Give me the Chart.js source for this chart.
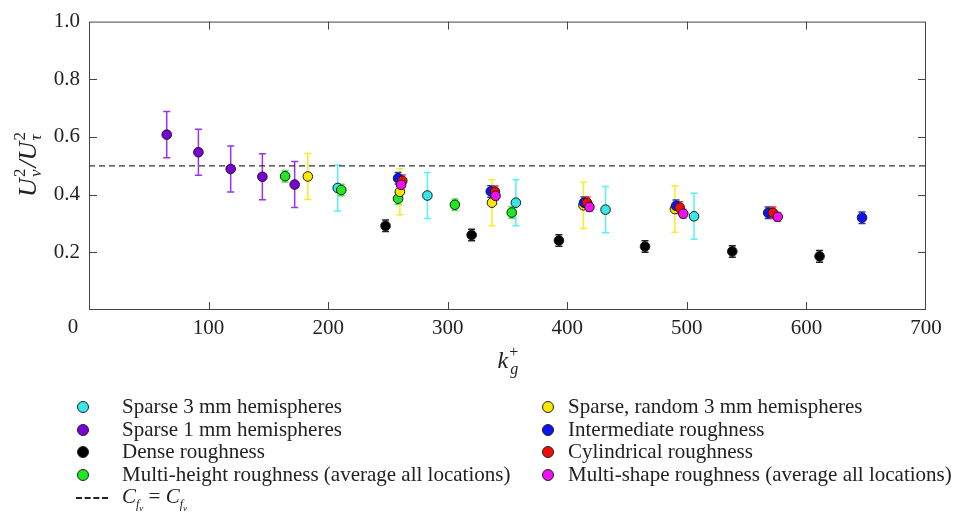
<!DOCTYPE html>
<html>
<head>
<meta charset="utf-8">
<script src="https://cdn.jsdelivr.net/npm/chart.js@4"></script>
<style>
  body{margin:0;background:#fff;}
  #wrap{position:relative;width:957px;height:515px;font-family:'Liberation Serif',serif;color:#222;}
  #myChart{position:absolute;left:0;top:0;}
  .lg{position:absolute;font-size:21px;line-height:22px;white-space:nowrap;}
  .dot{position:absolute;width:10px;height:10px;border-radius:50%;border:1px solid #222;}
  .dash{position:absolute;width:32px;height:0;border-top:2px dashed #222;}
  i{font-style:italic;}
  sub{font-size:12px;line-height:0;}
  sub sub{font-size:9px;}
</style>
</head>
<body>
<div id="wrap">
  <canvas id="myChart" width="957" height="515"></canvas>
  <div id="legend"></div>
</div>
<script>
// series: k_g^+ values, U_v^2/U_tau^2 values, error (+/-)
const cyanK = [208, 283, 357, 432, 506];
const cyanV = [0.423, 0.397, 0.372, 0.348, 0.325];
const cyanE = [0.08, 0.08, 0.08, 0.08, 0.08];

const purpleK = [65, 91.5, 118.5, 145, 172];
const purpleV = [0.608, 0.547, 0.489, 0.462, 0.435];
const purpleE = [0.08, 0.08, 0.08, 0.08, 0.08];

const blackK = [248, 320, 393, 465, 538, 611];
const blackV = [0.292, 0.26, 0.241, 0.22, 0.203, 0.186];
const blackE = [0.02, 0.02, 0.02, 0.02, 0.02, 0.02];

const greenK = [164, 211, 258.5, 306, 353.5];
const greenV = [0.464, 0.416, 0.386, 0.365, 0.338];
const greenE = [0.02, 0.02, 0.02, 0.02, 0.02];

const yellowK = [183, 260, 337, 413.5, 490];
const yellowV = [0.463, 0.41, 0.372, 0.363, 0.35];
const yellowE = [0.08, 0.08, 0.08, 0.08, 0.08];

const blueK = [258.5, 336, 414, 491, 568, 646.5];
const blueV = [0.457, 0.411, 0.372, 0.361, 0.337, 0.32];
const blueE = [0.02, 0.02, 0.02, 0.02, 0.02, 0.02];

const redK = [262, 339.5, 416.5, 494, 572];
const redV = [0.448, 0.41, 0.372, 0.355, 0.337];
const redE = [0.02, 0.02, 0.02, 0.02, 0.02];

const magentaK = [261, 340, 418.5, 497, 576];
const magentaV = [0.434, 0.396, 0.357, 0.334, 0.323];
const magentaE = [0.015, 0.015, 0.015, 0.015, 0.015];

const refLineK = [0, 700];
const refLineV = [0.5, 0.5];

const xTicks = [0, 100, 200, 300, 400, 500, 600, 700];
const yTicks = [0, 0.2, 0.4, 0.6, 0.8, 1.0];

const series = [
  {name: 'Sparse 3 mm hemispheres', k: cyanK, v: cyanV, e: cyanE, color: '#3be6e6', errColor: '#55f2f2'},
  {name: 'Sparse 1 mm hemispheres', k: purpleK, v: purpleV, e: purpleE, color: '#7a00d8', errColor: '#9a30f0'},
  {name: 'Dense roughness', k: blackK, v: blackV, e: blackE, color: '#000000', errColor: '#222222'},
  {name: 'Multi-height roughness (average all locations)', k: greenK, v: greenV, e: greenE, color: '#22e622', errColor: '#44ee44'},
  {name: 'Sparse, random 3 mm hemispheres', k: yellowK, v: yellowV, e: yellowE, color: '#ffe600', errColor: '#ffea20'},
  {name: 'Intermediate roughness', k: blueK, v: blueV, e: blueE, color: '#0a14f5', errColor: '#2030f0'},
  {name: 'Cylindrical roughness', k: redK, v: redV, e: redE, color: '#f50a0a', errColor: '#f03030'},
  {name: 'Multi-shape roughness (average all locations)', k: magentaK, v: magentaV, e: magentaE, color: '#f010f0', errColor: '#f040f0'}
];

const datasets = series.map((s, i) => ({
  type: 'scatter',
  label: s.name,
  data: s.k.map((k, j) => ({x: k, y: s.v[j]})),
  errs: s.e,
  errColor: s.errColor,
  backgroundColor: s.color,
  borderColor: '#1a1a1a',
  borderWidth: 1,
  pointRadius: 4.8,
  order: 20 - i
}));
datasets.push({
  type: 'line',
  label: 'ref',
  data: refLineK.map((k, j) => ({x: k, y: refLineV[j]})),
  borderColor: '#333',
  borderWidth: 1.2,
  borderDash: [6, 4],
  pointRadius: 0,
  order: 100
});

// error bars, drawn under the markers
const errorBars = {
  id: 'errorBars',
  beforeDatasetsDraw(chart) {
    const ctx = chart.ctx, xs = chart.scales.x, ys = chart.scales.y;
    ctx.save();
    chart.data.datasets.forEach(ds => {
      if (!ds.errs) return;
      ctx.strokeStyle = ds.errColor;
      ctx.lineWidth = 1.5;
      ds.data.forEach((p, j) => {
        const x = xs.getPixelForValue(p.x);
        const y1 = ys.getPixelForValue(p.y + ds.errs[j]);
        const y2 = ys.getPixelForValue(p.y - ds.errs[j]);
        ctx.beginPath();
        ctx.moveTo(x, y1); ctx.lineTo(x, y2);
        ctx.moveTo(x - 3.5, y1); ctx.lineTo(x + 3.5, y1);
        ctx.moveTo(x - 3.5, y2); ctx.lineTo(x + 3.5, y2);
        ctx.stroke();
      });
    });
    ctx.restore();
  }
};

// frame, inward ticks and axis titles
const frame = {
  id: 'frame',
  afterDraw(chart) {
    const ctx = chart.ctx, a = chart.chartArea, xs = chart.scales.x, ys = chart.scales.y;
    ctx.save();
    ctx.strokeStyle = '#444';
    ctx.lineWidth = 1;
    ctx.strokeRect(a.left + 0.5, a.top + 0.5, a.right - a.left - 1, a.bottom - a.top - 1);
    ctx.beginPath();
    xTicks.slice(1, -1).forEach(t => {
      const x = Math.round(xs.getPixelForValue(t)) + 0.5;
      ctx.moveTo(x, a.bottom); ctx.lineTo(x, a.bottom - 8);
      ctx.moveTo(x, a.top); ctx.lineTo(x, a.top + 8);
    });
    yTicks.slice(1, -1).forEach(t => {
      const y = Math.round(ys.getPixelForValue(t)) + 0.5;
      ctx.moveTo(a.left, y); ctx.lineTo(a.left + 8, y);
      ctx.moveTo(a.right, y); ctx.lineTo(a.right - 8, y);
    });
    ctx.stroke();

    ctx.fillStyle = '#222';
    // corner zero label
    ctx.font = "21px 'Liberation Serif'";
    ctx.textAlign = 'center';
    ctx.textBaseline = 'middle';
    ctx.fillText('0', a.left - 16, a.bottom + 17);

    // x title k_g^+
    ctx.textAlign = 'left';
    ctx.textBaseline = 'alphabetic';
    const xc = (a.left + a.right) / 2, yb = 368;
    ctx.font = "italic 24px 'Liberation Serif'";
    const kw = ctx.measureText('k').width;
    let x0 = xc - 10;
    ctx.fillText('k', x0, yb);
    ctx.font = "16px 'Liberation Serif'";
    ctx.fillText('+', x0 + kw + 1, yb - 11);
    ctx.font = "italic 16px 'Liberation Serif'";
    ctx.fillText('g', x0 + kw + 2, yb + 6);

    // y title U_v^2/U_tau^2 (rotated)
    ctx.translate(27, 164);
    ctx.rotate(-Math.PI / 2);
    const big = "italic 26px 'Liberation Serif'", small = "17px 'Liberation Serif'", smallI = "italic 17px 'Liberation Serif'";
    ctx.font = big;
    const uw = ctx.measureText('U').width, sw = ctx.measureText('/').width;
    ctx.font = small;
    const tw = ctx.measureText('2').width;
    const total = uw * 2 + tw * 2 + sw + 4;
    let cx = -total / 2;
    const by = 9;
    const piece = (sub) => {
      ctx.font = big; ctx.fillText('U', cx, by); cx += uw;
      ctx.font = small; ctx.fillText('2', cx + 1, by - 11);
      ctx.font = smallI; ctx.fillText(sub, cx + 1, by + 5);
      cx += tw + 2;
    };
    piece('v');
    ctx.font = big; ctx.fillText('/', cx, by); cx += sw;
    piece('τ');
    ctx.restore();
  }
};

const ctx = document.getElementById('myChart').getContext('2d');
Chart.defaults.font.family = "'Liberation Serif', serif";
Chart.defaults.font.size = 21;
Chart.defaults.color = '#222';

new Chart(ctx, {
  data: {datasets: datasets},
  options: {
    responsive: false,
    animation: false,
    layout: {padding: {top: 19, right: 31, left: 0, bottom: 0}},
    plugins: {legend: {display: false}, tooltip: {enabled: false}},
    scales: {
      x: {
        type: 'linear', min: 0, max: 700,
        afterBuildTicks: s => { s.ticks = xTicks.map(v => ({value: v})); },
        afterFit: s => { s.height = 205; },
        grid: {display: false, drawTicks: false},
        border: {display: false},
        ticks: {padding: 6, callback: v => v === 0 ? '' : v}
      },
      y: {
        type: 'linear', min: 0, max: 1,
        afterBuildTicks: s => { s.ticks = yTicks.map(v => ({value: v})); },
        afterFit: s => { s.width = 89; },
        grid: {display: false, drawTicks: false},
        border: {display: false},
        ticks: {padding: 9, callback: v => v === 0 ? '' : v.toFixed(1)}
      }
    }
  },
  plugins: [errorBars, frame]
});

// legend
const legend = document.getElementById('legend');
series.forEach((s, i) => {
  const col = i < 4 ? 0 : 1;
  const row = i % 4;
  const cy = 407 + row * 22.5;
  const dotX = col === 0 ? 83 : 548;
  const txtX = col === 0 ? 122 : 568;
  const d = document.createElement('span');
  d.className = 'dot';
  d.style.left = (dotX - 6) + 'px';
  d.style.top = (cy - 6) + 'px';
  d.style.background = s.color;
  legend.appendChild(d);
  const t = document.createElement('div');
  t.className = 'lg';
  t.style.left = txtX + 'px';
  t.style.top = (cy - 12) + 'px';
  t.textContent = s.name;
  legend.appendChild(t);
});
const dl = document.createElement('span');
dl.className = 'dash';
dl.style.left = '76px';
dl.style.top = '497px';
legend.appendChild(dl);
const dt = document.createElement('div');
dt.className = 'lg';
dt.style.left = '122px';
dt.style.top = (497 - 12) + 'px';
dt.innerHTML = '<i>C</i><sub><i>f</i><sub><i>ν</i></sub></sub> = <i>C</i><sub><i>f</i><sub><i>v</i></sub></sub>';
legend.appendChild(dt);
</script>
</body>
</html>
